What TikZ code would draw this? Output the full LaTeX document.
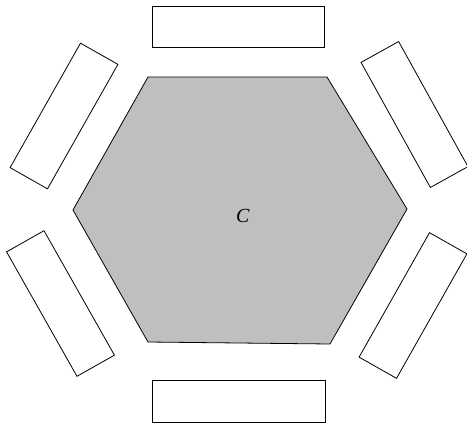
\documentclass[tikz,border=0pt]{standalone}
\usepackage{fontspec}
\setmainfont{Liberation Serif}
\tikzset{slot/.style = {draw, thick, fill = white, minimum width = 143, minimum height = 43, inner sep = 0},
	 cell/.style = {draw, thick, fill = black!25}}
\begin{document}
\begin{tikzpicture} [x = 1pt, y = -1pt]
	\useasboundingbox (0,0) rectangle (467,424);
	% the central cell
	\draw [cell] (148,77) -- (327,77) -- (407,209) -- (330,344) -- (148,342) -- (73,210) -- cycle;
	\node (lbl) at (243,216) {\fontsize{20}{22}\selectfont\textit{C}};
	% the six slots round it
	\node [slot, minimum width = 172, minimum height = 41] (top) at (238,26.5) {};
	\node [slot, minimum width = 173, minimum height = 42] (bot) at (238.5,401) {};
	\node [slot, rotate = 60.5] (ul) at (64,116) {};
	\node [slot, rotate = -61] (ur) at (414.5,114.5) {};
	\node [slot, rotate = -60.5] (ll) at (60.5,303.5) {};
	\node [slot, rotate = 60.5] (lr) at (413,305.5) {};
\end{tikzpicture}
\end{document}
